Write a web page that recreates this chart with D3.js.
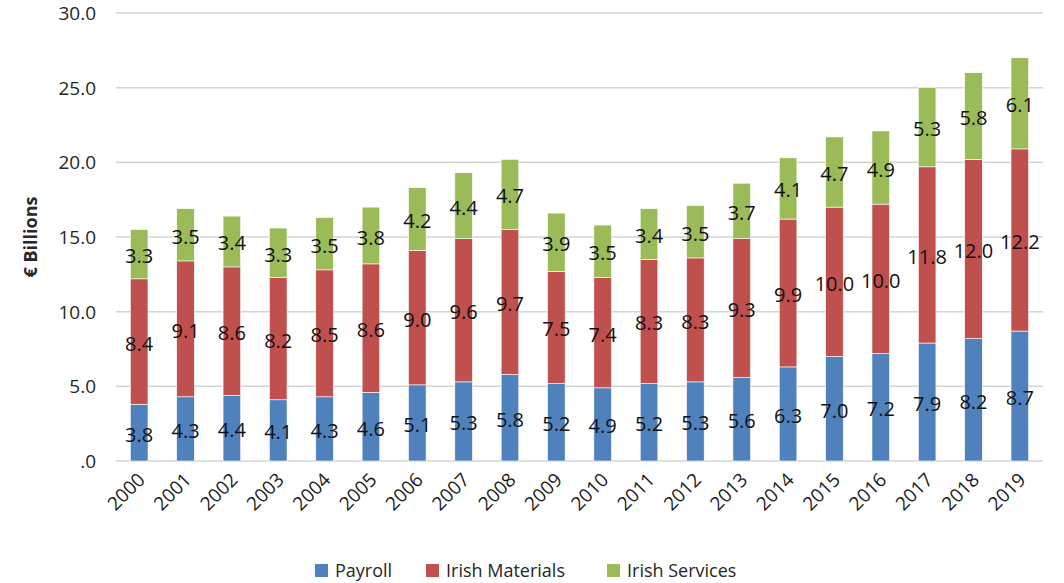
<!DOCTYPE html>
<html>
<head>
<meta charset="utf-8">
<script src="https://cdn.jsdelivr.net/npm/d3@7"></script>
<style>
  html, body { margin: 0; padding: 0; background: #fff; }
  svg { display: block; }
</style>
</head>
<body>
<svg id="chart" width="1064" height="583"></svg>
<script>
const years = ["2000","2001","2002","2003","2004","2005","2006","2007","2008","2009","2010","2011","2012","2013","2014","2015","2016","2017","2018","2019"];
const payroll = [3.8,4.3,4.4,4.1,4.3,4.6,5.1,5.3,5.8,5.2,4.9,5.2,5.3,5.6,6.3,7.0,7.2,7.9,8.2,8.7];
const irishMaterials = [8.4,9.1,8.6,8.2,8.5,8.6,9.0,9.6,9.7,7.5,7.4,8.3,8.3,9.3,9.9,10.0,10.0,11.8,12.0,12.2];
const irishServices = [3.3,3.5,3.4,3.3,3.5,3.8,4.2,4.4,4.7,3.9,3.5,3.4,3.5,3.7,4.1,4.7,4.9,5.3,5.8,6.1];
const seriesNames = ["Payroll","Irish Materials","Irish Services"];
const yTicks = [0,5,10,15,20,25,30];
const yTitle = "€ Billions";

const colors = ["#4F81BD","#C0504D","#9BBB59"];
const font = "'Open Sans', 'DejaVu Sans', sans-serif";

const svg = d3.select("#chart");
const margin = {left: 116, right: 21, top: 13, bottom: 122};
const W = 1064, H = 583;

const x = d3.scaleBand().domain(years).range([margin.left, W - margin.right]).paddingInner(0.62).paddingOuter(0.31);
const y = d3.scaleLinear().domain([0, 30]).range([H - margin.bottom, margin.top]);

const table = years.map((yr, i) => ({year: yr, "Payroll": payroll[i], "Irish Materials": irishMaterials[i], "Irish Services": irishServices[i]}));
const stacked = d3.stack().keys(seriesNames)(table);

// gridlines
svg.append("g").selectAll("line").data(yTicks).join("line")
  .attr("x1", margin.left).attr("x2", W - margin.right)
  .attr("y1", d => y(d)).attr("y2", d => y(d))
  .attr("stroke", "#d4d4d4").attr("stroke-width", 1.5);

// y axis
const yAxis = d3.axisLeft(y).tickValues(yTicks).tickSize(0).tickPadding(20)
  .tickFormat(d => d === 0 ? ".0" : d3.format(".1f")(d));
const gy = svg.append("g").attr("transform", `translate(${margin.left},0)`).call(yAxis);
gy.select(".domain").remove();
gy.selectAll("text").attr("font-family", font).attr("font-size", 19).attr("fill", "#262626").attr("dy", "0.35em");

// y title
svg.append("text").attr("transform", `translate(37,${(y(0)+y(30))/2}) rotate(-90)`)
  .attr("text-anchor", "middle").attr("font-family", font).attr("font-size", 18).attr("font-weight", "bold")
  .attr("fill", "#262626").text(yTitle);

// bars
const gBars = svg.append("g");
stacked.forEach((s, si) => {
  gBars.append("g").selectAll("rect").data(s).join("rect")
    .attr("x", d => x(d.data.year)).attr("width", x.bandwidth())
    .attr("y", d => y(d[1])).attr("height", d => y(d[0]) - y(d[1]))
    .attr("fill", colors[si]).attr("stroke", "#fff").attr("stroke-width", 0.6);
});

// data labels
stacked.forEach((s, si) => {
  svg.append("g").selectAll("text").data(s).join("text")
    .attr("x", d => x(d.data.year) + x.bandwidth()/2)
    .attr("y", d => y((d[0] + d[1]) / 2) + 2)
    .attr("dy", "0.35em")
    .attr("text-anchor", "middle")
    .attr("font-family", font).attr("font-size", 20).attr("fill", "#111")
    .text(d => d3.format(".1f")(d[1] - d[0]));
});

// x labels
svg.append("g").selectAll("text").data(years).join("text")
  .attr("transform", d => `translate(${x(d) + x.bandwidth()/2 + 7},${y(0) + 20}) rotate(-45)`)
  .attr("text-anchor", "end").attr("font-family", font).attr("font-size", 19).attr("fill", "#1a1a1a")
  .text(d => d);

// legend
const legendX = [315, 426, 607];
const lg = svg.append("g");
seriesNames.forEach((n, i) => {
  lg.append("rect").attr("x", legendX[i]).attr("y", 564).attr("width", 13).attr("height", 13).attr("fill", colors[i]);
  lg.append("text").attr("x", legendX[i] + 20).attr("y", 577)
    .attr("font-family", font).attr("font-size", 18).attr("fill", "#262626").text(n);
});
</script>
</body>
</html>
